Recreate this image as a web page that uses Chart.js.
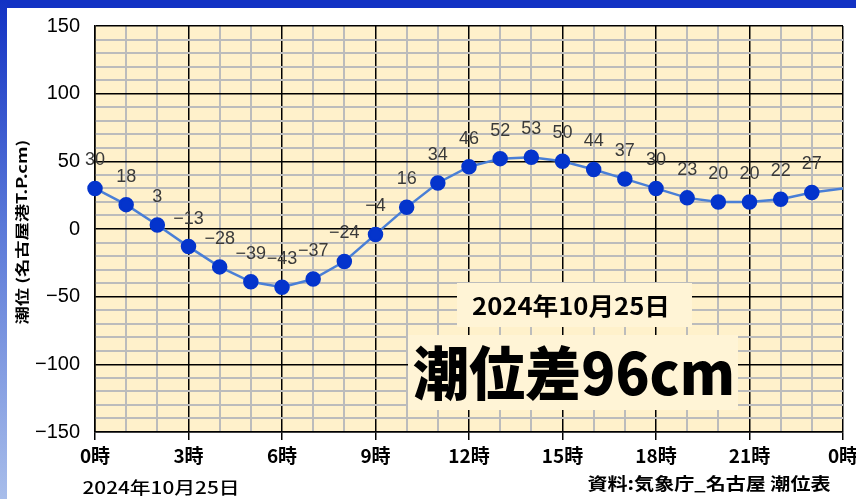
<!DOCTYPE html>
<html><head><meta charset="utf-8">
<script src="https://cdn.jsdelivr.net/npm/chart.js@4"></script>
<style>
html,body{margin:0;padding:0;background:#fff;width:856px;height:499px;overflow:hidden;position:relative}
#topbar{position:absolute;left:0;top:0;width:856px;height:8px;background:#1232c4}
#leftbar{position:absolute;left:0;top:0;width:7px;height:499px;background:linear-gradient(#1232c4,#5a78d8 45%,#a8bdea)}
canvas{position:absolute;left:0;top:0}
</style></head>
<body>
<canvas id="c" width="856" height="499"></canvas>
<div id="topbar"></div><div id="leftbar"></div>
<script>
const hours = [0,1,2,3,4,5,6,7,8,9,10,11,12,13,14,15,16,17,18,19,20,21,22,23];
const tide = [30,18,3,-13,-28,-39,-43,-37,-24,-4,16,34,46,52,53,50,44,37,30,23,20,20,22,27];
const nextDayHour = 24;
const nextDayTide = 30;
const yTickValues = [150,100,50,0,-50,-100,-150];
const dateText = '2024年10月25日';
const rangeText = '潮位差96cm';
const yTitle = '潮位 (名古屋港T.P.cm)';
const sourceText = '資料:気象庁_名古屋 潮位表';

const pts = hours.map((h,i)=>({x:h,y:tide[i]}));
pts.push({x:nextDayHour,y:nextDayTide});
const fmt = v => (v<0 ? '\u2212'+Math.abs(v) : String(v));

const bgPlugin = {
  id:'bg',
  beforeDraw(chart){
    const {ctx,chartArea:a} = chart;
    ctx.save(); ctx.fillStyle='#fff1cb'; ctx.fillRect(a.left,a.top,a.right-a.left,a.bottom-a.top); ctx.restore();
  }
};
function fitText(ctx, text, cx, cy, font, targetW){
  ctx.save(); ctx.font=font; const w=ctx.measureText(text).width; const s=targetW/w;
  ctx.translate(cx,cy); ctx.scale(s,1); ctx.textAlign='center'; ctx.textBaseline='middle';
  ctx.fillText(text,0,0); ctx.restore();
}
const overlay = {
  id:'overlay',
  afterDatasetsDraw(chart){
    const {ctx} = chart;
    const meta = chart.getDatasetMeta(0);
    ctx.save();
    ctx.fillStyle='#3a3a3a'; ctx.font='18px "Liberation Sans", Arial, sans-serif';
    ctx.textAlign='center'; ctx.textBaseline='middle';
    tide.forEach((v,i)=>{ const p=meta.data[i]; ctx.fillText(fmt(v), p.x, p.y-28); });
    // boxes
    ctx.fillStyle='#fff4d6';
    ctx.fillRect(457,283,235,44);
    ctx.fillRect(408,335,330,75);
    ctx.fillStyle='#000';
    fitText(ctx, dateText, 571, 306, 'bold 24px "Noto Sans CJK JP"', 198);
    fitText(ctx, rangeText, 574, 373, '900 58px "Noto Sans CJK JP"', 322);
    // y title
    ctx.save(); ctx.translate(22,232); ctx.rotate(-Math.PI/2);
    fitText(ctx, yTitle, 0, 0, 'bold 14px "Noto Sans CJK JP"', 185);
    ctx.restore();
    fitText(ctx, dateText, 161, 488, '500 17px "Noto Sans CJK JP"', 157);
    fitText(ctx, sourceText, 709, 484, 'bold 17px "Noto Sans CJK JP"', 243);
    ctx.restore();
  }
};

new Chart(document.getElementById('c'), {
  type:'line',
  data:{ datasets:[{
    data: pts,
    borderColor:'#4a7fd6', borderWidth:2.5, tension:0,
    pointBackgroundColor:'#0434cc', pointBorderColor:'#0434cc',
    pointRadius: c => c.dataIndex===hours.length ? 0 : 6.5,
    pointHoverRadius:0
  }]},
  options:{
    responsive:false, animation:false, devicePixelRatio:1,
    layout:{padding:{left:0,top:26,right:13,bottom:0}},
    plugins:{legend:{display:false},tooltip:{enabled:false}},
    clip:false,
    scales:{
      x:{ type:'linear', min:0, max:24,
        afterBuildTicks: s => { s.ticks = Array.from({length:25},(_,i)=>({value:i})); },
        afterFit: s => { s.height = 67; s.paddingLeft = 0; s.paddingRight = 0; },
        ticks:{ autoSkip:false, maxRotation:0, padding:4, color:'#000',
          font:{family:'"Noto Sans CJK JP"', size:19, weight:'bold'},
          callback: v => v%3===0 ? (v%24)+'時' : '' },
        grid:{ color: c => (c.tick && c.tick.value%3===0) ? '#000' : '#bcbcbc',
          lineWidth: c => (c.tick && c.tick.value%3===0) ? 1.5 : 2,
          tickLength:8,
          tickColor: c => (c.tick && c.tick.value%3===0) ? '#000' : 'rgba(0,0,0,0)' },
        border:{color:'#000', width:1.5}
      },
      y:{ type:'linear', min:-150, max:150,
        afterBuildTicks: s => { const t=[]; for(let v=-150; v<=150; v+=10) t.push({value:v}); s.ticks=t; },
        afterFit: s => { s.width = 95; s.paddingTop = 0; s.paddingBottom = 0; },
        ticks:{ autoSkip:false, padding:15, color:'#000',
          font:{family:'"Liberation Sans", Arial, sans-serif', size:20},
          callback: v => yTickValues.includes(v) ? fmt(v) : '' },
        grid:{ color: c => (c.tick && c.tick.value%50===0) ? '#000' : '#bcbcbc',
          lineWidth: c => (c.tick && c.tick.value%50===0) ? 1.5 : 2,
          drawTicks:false },
        border:{color:'#000', width:1.5}
      }
    }
  },
  plugins:[bgPlugin, overlay]
});
</script>
</body></html>
